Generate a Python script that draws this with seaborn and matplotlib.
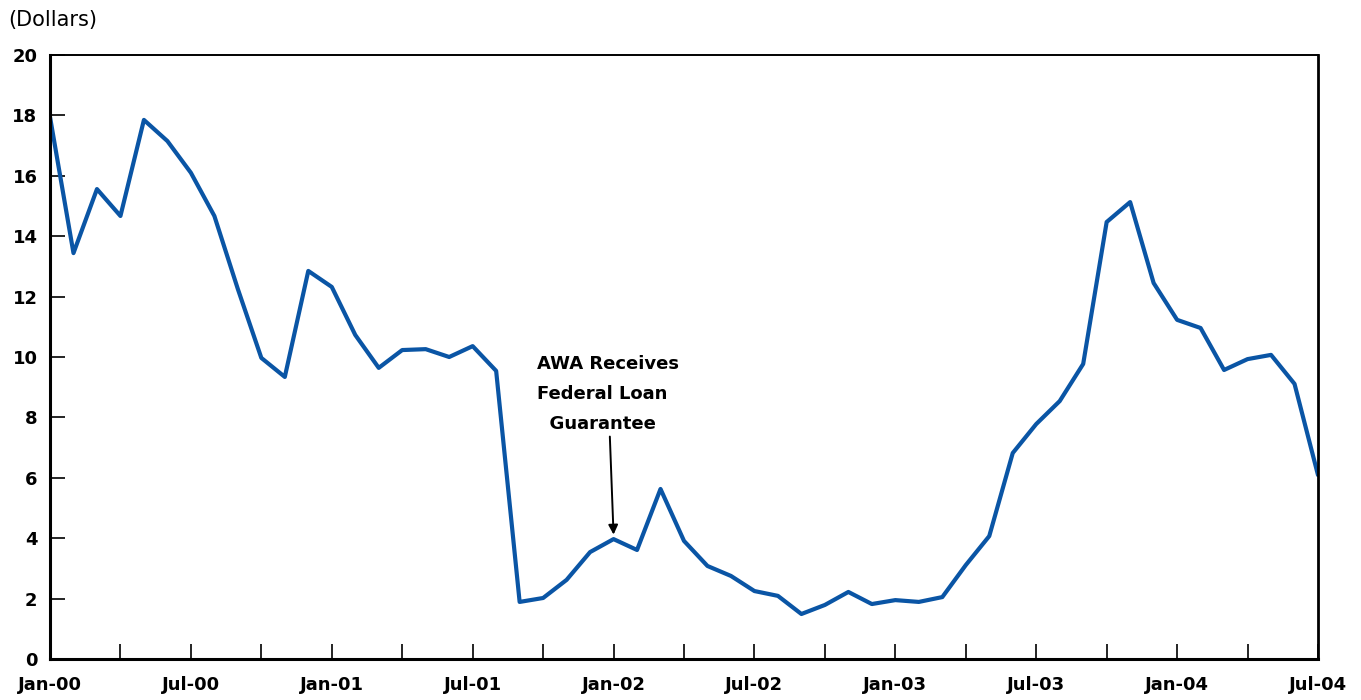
import numpy as np
import pandas as pd
import matplotlib
matplotlib.use("Agg")
import matplotlib.pyplot as plt
import seaborn as sns

# Monthly closing share price, Jan 2000 - Jul 2004 (dollars)
months = pd.date_range("2000-01-01", "2004-07-01", freq="MS")
price = [
    17.95, 13.44, 15.56, 14.67, 17.85, 17.15, 16.10, 14.67, 12.25, 9.97, 9.34, 12.85,
    12.32, 10.73, 9.64, 10.23, 10.26, 10.00, 10.36, 9.54, 1.89, 2.02, 2.62, 3.54,
    3.97, 3.61, 5.63, 3.91, 3.08, 2.75, 2.25, 2.09, 1.49, 1.79, 2.22, 1.82,
    1.95, 1.89, 2.05, 3.11, 4.07, 6.82, 7.78, 8.54, 9.77, 14.47, 15.13, 12.45,
    11.23, 10.96, 9.57, 9.93, 10.07, 9.11, 6.09,
]
tick_labels = ["Jan-00", "Jul-00", "Jan-01", "Jul-01", "Jan-02", "Jul-02",
               "Jan-03", "Jul-03", "Jan-04", "Jul-04"]
y_ticks = [0, 2, 4, 6, 8, 10, 12, 14, 16, 18, 20]
note_text = "AWA Receives\nFederal Loan\n  Guarantee"
note_month = 24  # Jan-02

df = pd.DataFrame({"m": np.arange(len(months)), "price": price})

sns.set_theme(style="white")
plt.rcParams["font.family"] = ["DejaVu Sans"]
plt.rcParams["text.color"] = "black"

fig = plt.figure(figsize=(13.61, 7.0), dpi=100)
ax = fig.add_axes([50 / 1361, 41 / 700, 1268 / 1361, 604 / 700])

sns.lineplot(data=df, x="m", y="price", ax=ax, color="#0a55a5", linewidth=3.0)

ax.set_xlim(0, len(months) - 1)
ax.set_ylim(0, 20)
ax.set_xlabel("")
ax.set_ylabel("")

ax.set_xticks(np.arange(0, len(months), 6))
ax.set_xticklabels(tick_labels)
ax.set_xticks(np.arange(3, len(months), 6), minor=True)
ax.set_yticks(y_ticks)

ax.tick_params(axis="both", which="both", direction="in", length=11, width=1.2,
               color="black", labelsize=13, labelcolor="black",
               bottom=True, left=True, top=False, right=False)
ax.tick_params(axis="x", which="major", pad=12)
ax.tick_params(axis="y", which="major", pad=9)
for lab in ax.get_xticklabels() + ax.get_yticklabels():
    lab.set_fontweight("bold")

for side in ["left", "bottom", "right", "top"]:
    ax.spines[side].set_visible(True)
    ax.spines[side].set_color("black")
ax.spines["left"].set_linewidth(2.2)
ax.spines["bottom"].set_linewidth(2.2)
ax.spines["right"].set_linewidth(2.0)
ax.spines["top"].set_linewidth(1.4)

fig.text(8 / 1361, 1 - 20 / 700, "(Dollars)", fontsize=15, va="center", ha="left",
         color="black")

ax.annotate(note_text, xy=(note_month, price[note_month] + 0.15),
            xytext=(note_month - 3.25, 10.05), ha="left", va="top",
            fontsize=13, fontweight="bold", linespacing=1.85, color="black",
            arrowprops=dict(arrowstyle="-|>", color="black", lw=1.4,
                            mutation_scale=14, shrinkA=0, shrinkB=0),
            )

fig.savefig("out.png", dpi=100)
